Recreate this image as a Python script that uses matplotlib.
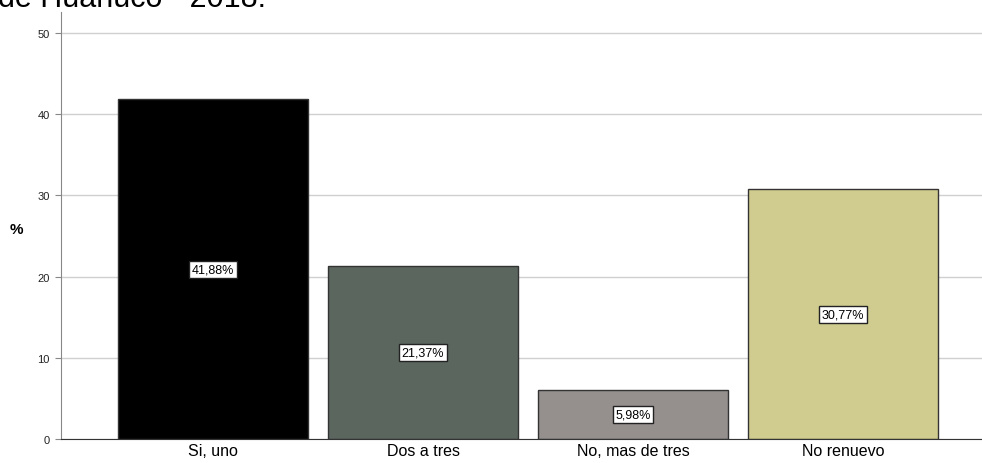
import matplotlib.pyplot as plt

categories = ['Si, uno', 'Dos a tres', 'No, mas de tres', 'No renuevo']
values = [41.88, 21.37, 5.98, 30.77]
labels = ['41,88%', '21,37%', '5,98%', '30,77%']
colors = ['#000000', '#5b665f', '#958f8e', '#d0cc8f']
yticks = [0, 10, 20, 30, 40, 50]

plt.rcParams['font.family'] = ['Liberation Sans', 'DejaVu Sans']

fig = plt.figure(figsize=(9.82, 4.64), dpi=100)
ax = fig.add_axes([61 / 982, 24 / 464, 921 / 982, 427 / 464])

x = list(range(len(categories)))
ax.bar(x, values, width=0.905, color=colors, edgecolor='#333333', linewidth=1, zorder=2)

for xi, v, lab in zip(x, values, labels):
    ax.text(xi, v / 2, lab, ha='center', va='center', fontsize=9, zorder=3,
            bbox=dict(boxstyle='square,pad=0.2', facecolor='white', edgecolor='#222222', linewidth=1))

ax.set_xlim(-0.724, 3.662)
ax.set_ylim(0, 52.6)
ax.set_yticks(yticks)
ax.set_xticks(x)
ax.set_xticklabels(categories, fontsize=11.5)
ax.tick_params(axis='y', labelsize=8, length=4, color='#888888', labelcolor='#222222', pad=4)
ax.tick_params(axis='x', length=0, pad=3)
ax.grid(axis='y', color='#d0d0d0', linewidth=1, zorder=0)
ax.set_axisbelow(True)
for s in ['top', 'right']:
    ax.spines[s].set_visible(False)
ax.spines['left'].set_color('#888888')
ax.spines['bottom'].set_color('#333333')

ax.set_ylabel('%', rotation=0, fontsize=11, fontweight='bold', labelpad=20)
ax.yaxis.set_label_coords(-0.048, 0.475)

# title is cut off at the top edge in the original
fig.text(-2 / 982, 1.0 - 7 / 464, 'de Huánuco - 2018.', fontsize=22, ha='left', va='baseline')

fig.savefig('out.png', dpi=100)
